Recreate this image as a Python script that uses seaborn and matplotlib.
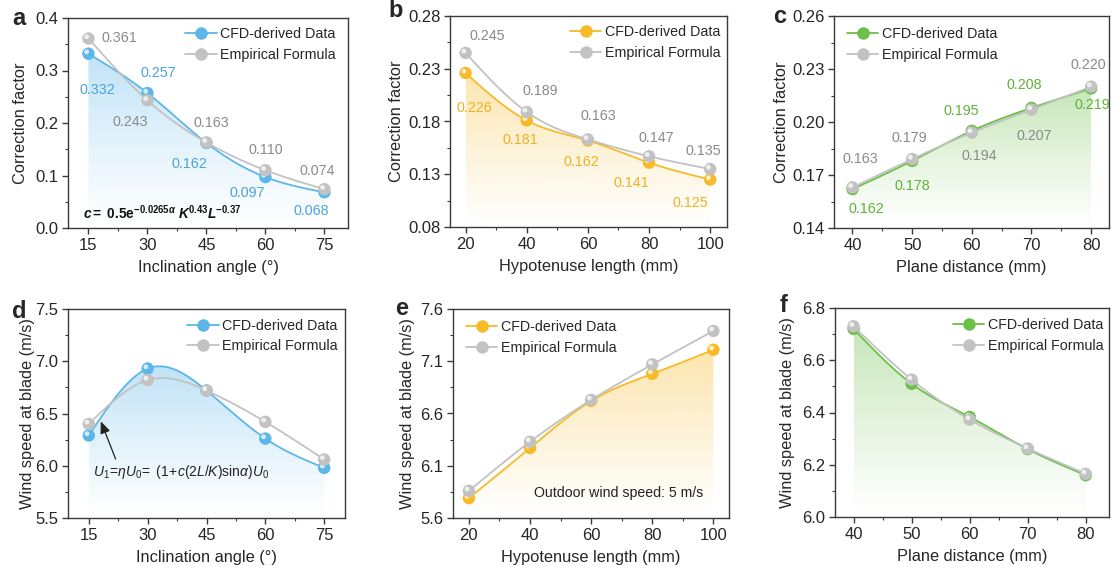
import numpy as np
import pandas as pd
import matplotlib
matplotlib.use("Agg")
import matplotlib.pyplot as plt
import seaborn as sns
from matplotlib.lines import Line2D
from matplotlib.patches import Polygon
import matplotlib.transforms as mtransforms

# ---------------- data ----------------
angle = [15, 30, 45, 60, 75]
hyp_len = [20, 40, 60, 80, 100]
plane_dist = [40, 50, 60, 70, 80]

cf_angle_cfd = [0.332, 0.257, 0.162, 0.097, 0.068]
cf_angle_emp = [0.361, 0.243, 0.163, 0.110, 0.074]
cf_len_cfd = [0.226, 0.181, 0.162, 0.141, 0.125]
cf_len_emp = [0.245, 0.189, 0.163, 0.147, 0.135]
cf_dist_cfd = [0.162, 0.178, 0.195, 0.208, 0.219]
cf_dist_emp = [0.163, 0.179, 0.194, 0.207, 0.220]

ws_angle_cfd = [6.29, 6.93, 6.72, 6.26, 5.98]
ws_angle_emp = [6.40, 6.82, 6.72, 6.42, 6.06]
ws_len_cfd = [5.79, 6.27, 6.72, 6.98, 7.21]
ws_len_emp = [5.86, 6.33, 6.73, 7.07, 7.39]
ws_dist_cfd = [6.72, 6.51, 6.383, 6.26, 6.16]
ws_dist_emp = [6.73, 6.526, 6.373, 6.262, 6.165]

series_names = ["CFD-derived Data", "Empirical Formula"]

# ---------------- style ----------------
sns.set_theme(style="ticks")
plt.rcParams["font.family"] = ["Liberation Sans", "DejaVu Sans"]
plt.rcParams["mathtext.fontset"] = "custom"
plt.rcParams["mathtext.rm"] = "Liberation Sans"
plt.rcParams["mathtext.it"] = "Liberation Sans:italic"
plt.rcParams["mathtext.bf"] = "Liberation Sans:bold"
plt.rcParams["mathtext.bfit"] = "Liberation Sans:bold:italic"

BLUE, BLUE_T = "#5cb6e8", "#4aa3dc"
ORANGE, ORANGE_T = "#f7bb2a", "#f0b020"
GREEN, GREEN_T = "#6cbf48", "#5fb23a"
GRAY, GRAY_T = "#c2c2c2", "#8a8a8a"
SPINE = "#3a3a3a"
TICK_FS = 12
LABEL_FS = 11.8
VAL_FS = 10.3
LEG_FS = 10.3

W, H = 1112, 569
fig = plt.figure(figsize=(W / 100, H / 100), dpi=100)


def add_ax(l, r, t, b):
    ax = fig.add_axes([l / W, (H - b) / H, (r - l) / W, (b - t) / H])
    ax._px = (l, r)
    return ax


def spline(x, y, n=300):
    x = np.asarray(x, float)
    y = np.asarray(y, float)
    m = len(x)
    h = np.diff(x)
    A = np.zeros((m, m))
    rhs = np.zeros(m)
    A[0, 0] = 1
    A[-1, -1] = 1
    for i in range(1, m - 1):
        A[i, i - 1] = h[i - 1]
        A[i, i] = 2 * (h[i - 1] + h[i])
        A[i, i + 1] = h[i]
        rhs[i] = 3 * ((y[i + 1] - y[i]) / h[i] - (y[i] - y[i - 1]) / h[i - 1])
    c = np.linalg.solve(A, rhs)
    b = (y[1:] - y[:-1]) / h - h * (2 * c[:-1] + c[1:]) / 3
    d = (c[1:] - c[:-1]) / (3 * h)
    xs = np.linspace(x[0], x[-1], n)
    idx = np.clip(np.searchsorted(x, xs, side="right") - 1, 0, m - 2)
    dx = xs - x[idx]
    ys = y[idx] + b[idx] * dx + c[idx] * dx ** 2 + d[idx] * dx ** 3
    return xs, ys


def gradient_fill(ax, xs, ys, color, ybot, alpha_top=0.42):
    top = ys.max()
    rgb = matplotlib.colors.to_rgb(color)
    grad = np.zeros((256, 1, 4))
    grad[:, :, :3] = rgb
    grad[:, 0, 3] = np.linspace(alpha_top, 0.0, 256) ** 1.1
    im = ax.imshow(grad, aspect="auto", extent=[xs[0], xs[-1], ybot, top],
                   origin="upper", zorder=1, interpolation="bilinear")
    verts = np.vstack([np.column_stack([xs, ys]),
                       [[xs[-1], ybot], [xs[0], ybot]]])
    poly = Polygon(verts, closed=True, facecolor="none", edgecolor="none",
                   transform=ax.transData)
    ax.add_patch(poly)
    im.set_clip_path(poly)


def draw_series(ax, x, y, color, z):
    xs, ys = spline(x, y)
    df = pd.DataFrame({"x": xs, "y": ys})
    sns.lineplot(data=df, x="x", y="y", ax=ax, color=color, lw=1.3,
                 zorder=z, sort=False)
    sns.scatterplot(x=x, y=y, ax=ax, color=color, s=80, edgecolor="none",
                    zorder=z + 0.5)
    off = mtransforms.ScaledTranslation(-1.3 / 72, 1.3 / 72, fig.dpi_scale_trans)
    ax.scatter(x, y, s=12, color="white", alpha=0.75, edgecolor="none",
               zorder=z + 0.6, transform=ax.transData + off)
    return xs, ys


def style_ax(ax, xlim, ylim, xticks, yticks, xlabel, ylabel, ylab_right_px):
    ax.set_xlim(*xlim)
    ax.set_ylim(*ylim)
    ax.set_xticks(xticks)
    ax.set_yticks(yticks)
    xm = [(xticks[i] + xticks[i + 1]) / 2 for i in range(len(xticks) - 1)]
    ym = [(yticks[i] + yticks[i + 1]) / 2 for i in range(len(yticks) - 1)]
    ax.set_xticks(xm, minor=True)
    ax.set_yticks(ym, minor=True)
    ax.set_xlabel(xlabel, fontsize=LABEL_FS, labelpad=5)
    ax.set_ylabel(ylabel, fontsize=LABEL_FS)
    l, r = ax._px
    ax.yaxis.set_label_coords((ylab_right_px - l) / (r - l), 0.5)
    ax.tick_params(which="major", direction="out", length=4.5, width=1,
                   labelsize=TICK_FS, color=SPINE, pad=2.5)
    ax.tick_params(which="minor", direction="out", length=2.5, width=0.8,
                   color=SPINE)
    for s in ax.spines.values():
        s.set_visible(True)
        s.set_color(SPINE)
        s.set_linewidth(1.0)
    ax.grid(False)
    ax.set_facecolor("white")


def add_legend(ax, color, x, y):
    handles = [
        Line2D([], [], color=color, marker="o", markersize=9, lw=1.3,
               markeredgecolor="none"),
        Line2D([], [], color=GRAY, marker="o", markersize=9, lw=1.3,
               markeredgecolor="none"),
    ]
    ax.legend(handles, series_names, loc="upper left", bbox_to_anchor=(x, y),
              frameon=False, fontsize=LEG_FS, handlelength=2.2,
              handletextpad=0.25, labelspacing=0.45, borderpad=0,
              borderaxespad=0)


def label_points(ax, x, y, offsets, color, fmt="{:.3f}"):
    for xi, yi, (dx, dy) in zip(x, y, offsets):
        ax.annotate(fmt.format(yi), (xi, yi), xytext=(dx * 0.72, -dy * 0.72),
                    textcoords="offset points", ha="center", va="center",
                    fontsize=VAL_FS, color=color, zorder=5)


def panel_letter(px, py, letter):
    fig.text(px / W, 1 - py / H, letter, fontsize=17, fontweight="bold",
             ha="center", va="baseline")


# ---------------- panel a ----------------
ax = add_ax(68, 348, 18, 228)
xs, ys = draw_series(ax, angle, cf_angle_cfd, BLUE, 3)
gradient_fill(ax, xs, ys, BLUE, 0.0)
draw_series(ax, angle, cf_angle_emp, GRAY, 4)
style_ax(ax, (9.8, 81.0), (0.0, 0.4), [15, 30, 45, 60, 75],
         [0.0, 0.1, 0.2, 0.3, 0.4], "Inclination angle (°)",
         "Correction factor", 28)
ax.set_yticklabels(["0.0", "0.1", "0.2", "0.3", "0.4"])
label_points(ax, angle, cf_angle_cfd,
             [(9, 36), (11, -20), (-17, 21), (-18, 16), (-13, 19)], BLUE_T)
label_points(ax, angle, cf_angle_emp,
             [(31, 0), (-17, 22), (5, -19), (0, -20), (-7, -18)], GRAY_T)
ax.text(0.055, 0.075,
        r"$\mathbfit{c}\mathbf{=\ 0.5e}^{\mathbf{-0.0265}\mathbfit{\alpha}}\ "
        r"\mathbfit{K}^{\mathbf{0.43}}\mathbfit{L}^{\mathbf{-0.37}}$",
        transform=ax.transAxes, fontsize=9.8, ha="left", va="center",
        color="#111111", zorder=6)
add_legend(ax, BLUE, 0.418, 0.955)
panel_letter(19, 25, "a")

# ---------------- panel b ----------------
ax = add_ax(450, 727, 16, 227)
xs, ys = draw_series(ax, hyp_len, cf_len_cfd, ORANGE, 3)
gradient_fill(ax, xs, ys, ORANGE, 0.08)
draw_series(ax, hyp_len, cf_len_emp, GRAY, 4)
style_ax(ax, (14.9, 105.5), (0.08, 0.28), [20, 40, 60, 80, 100],
         [0.08, 0.13, 0.18, 0.23, 0.28], "Hypotenuse length (mm)",
         "Correction factor", 404)
ax.set_yticklabels(["0.08", "0.13", "0.18", "0.23", "0.28"])
label_points(ax, hyp_len, cf_len_cfd,
             [(9, 35), (-6, 20), (-7, 22), (-18, 20), (-20, 23)], ORANGE_T)
label_points(ax, hyp_len, cf_len_emp,
             [(22, -17), (14, -21), (10, -23), (7, -18), (-7, -18)], GRAY_T)
add_legend(ax, ORANGE, 0.433, 0.955)
panel_letter(396, 17, "b")

# ---------------- panel c ----------------
ax = add_ax(834, 1109, 16, 228)
xs, ys = draw_series(ax, plane_dist, cf_dist_cfd, GREEN, 3)
gradient_fill(ax, xs, ys, GREEN, 0.14)
draw_series(ax, plane_dist, cf_dist_emp, GRAY, 4)
style_ax(ax, (36.9, 83.0), (0.14, 0.26), [40, 50, 60, 70, 80],
         [0.14, 0.17, 0.20, 0.23, 0.26], "Plane distance (mm)",
         "Correction factor", 789)
ax.set_yticklabels(["0.14", "0.17", "0.20", "0.23", "0.26"])
label_points(ax, plane_dist, cf_dist_cfd,
             [(14, 20), (0, 25), (-11, -20), (-7, -23), (1, 17)], GREEN_T)
label_points(ax, plane_dist, cf_dist_emp,
             [(8, -28), (-3, -21), (7, 23), (3, 26), (-3, -22)], GRAY_T)
add_legend(ax, GREEN, 0.047, 0.946)
panel_letter(780, 23, "c")

# ---------------- panel d ----------------
ax = add_ax(68, 345, 309, 518)
xs, ys = draw_series(ax, angle, ws_angle_cfd, BLUE, 3)
gradient_fill(ax, xs, ys, BLUE, 5.5)
draw_series(ax, angle, ws_angle_emp, GRAY, 4)
style_ax(ax, (9.7, 80.3), (5.5, 7.5), [15, 30, 45, 60, 75],
         [5.5, 6.0, 6.5, 7.0, 7.5], "Inclination angle (°)",
         "Wind speed at blade (m/s)", 35)
ax.set_yticklabels(["5.5", "6.0", "6.5", "7.0", "7.5"])
ax.annotate("", xy=(17.8, 6.45), xytext=(22.1, 6.04),
            arrowprops=dict(arrowstyle="-|>,head_length=0.6,head_width=0.25",
                            color="#222222", lw=0.9), zorder=6)
ax.text(16.0, 5.94,
        r"$U_1\!=\!\eta U_0\!=\ (1\!+\!c(2L/K)\mathrm{sin}\alpha)U_0$",
        fontsize=10, ha="left", va="center", color="#222222", zorder=6)
add_legend(ax, BLUE, 0.43, 0.954)
panel_letter(19, 318, "d")

# ---------------- panel e ----------------
ax = add_ax(453, 729, 309, 518)
xs, ys = draw_series(ax, hyp_len, ws_len_cfd, ORANGE, 3)
gradient_fill(ax, xs, ys, ORANGE, 5.6)
draw_series(ax, hyp_len, ws_len_emp, GRAY, 4)
style_ax(ax, (14.8, 105.1), (5.6, 7.6), [20, 40, 60, 80, 100],
         [5.6, 6.1, 6.6, 7.1, 7.6], "Hypotenuse length (mm)",
         "Wind speed at blade (m/s)", 415)
ax.set_yticklabels(["5.6", "6.1", "6.6", "7.1", "7.6"])
ax.text(41.4, 5.84, "Outdoor wind speed: 5 m/s", fontsize=10.2, ha="left",
        va="center", color="#222222", zorder=6)
add_legend(ax, ORANGE, 0.047, 0.945)
panel_letter(402, 315, "e")

# ---------------- panel f ----------------
ax = add_ax(835, 1109, 308, 517)
xs, ys = draw_series(ax, plane_dist, ws_dist_cfd, GREEN, 3)
gradient_fill(ax, xs, ys, GREEN, 6.0)
draw_series(ax, plane_dist, ws_dist_emp, GRAY, 4)
style_ax(ax, (36.8, 84.0), (6.0, 6.8), [40, 50, 60, 70, 80],
         [6.0, 6.2, 6.4, 6.6, 6.8], "Plane distance (mm)",
         "Wind speed at blade (m/s)", 795)
ax.set_yticklabels(["6.0", "6.2", "6.4", "6.6", "6.8"])
add_legend(ax, GREEN, 0.43, 0.95)
panel_letter(784, 312, "f")

fig.savefig("out.png", dpi=100, facecolor="white")
